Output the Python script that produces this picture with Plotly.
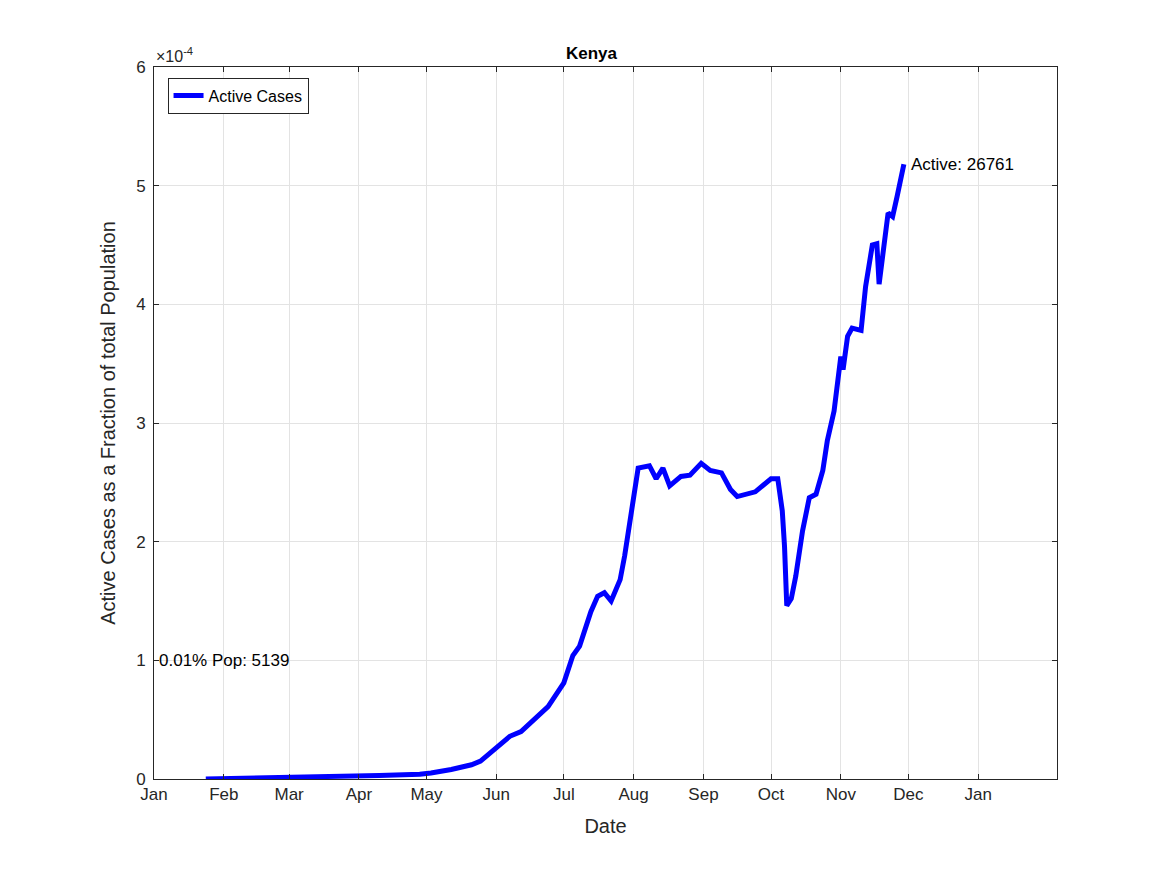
import plotly.graph_objects as go

# Active cases as fraction of population (units of 1e-4)
dates = ['2020-01-24', '2020-04-01', '2020-04-10', '2020-04-28', '2020-05-03', '2020-05-12',
         '2020-05-21', '2020-05-25', '2020-06-01', '2020-06-07', '2020-06-12', '2020-06-18',
         '2020-06-24', '2020-07-01', '2020-07-05', '2020-07-08', '2020-07-13', '2020-07-16',
         '2020-07-19', '2020-07-22', '2020-07-26', '2020-07-28', '2020-08-01', '2020-08-03',
         '2020-08-08', '2020-08-11', '2020-08-14', '2020-08-17', '2020-08-22', '2020-08-26',
         '2020-08-31', '2020-09-04', '2020-09-09', '2020-09-13', '2020-09-16', '2020-09-24',
         '2020-10-01', '2020-10-04', '2020-10-06', '2020-10-07', '2020-10-08', '2020-10-10',
         '2020-10-12', '2020-10-15', '2020-10-18', '2020-10-21', '2020-10-24', '2020-10-26',
         '2020-10-29', '2020-11-01', '2020-11-02', '2020-11-04', '2020-11-06', '2020-11-10',
         '2020-11-12', '2020-11-15', '2020-11-17', '2020-11-18', '2020-11-22', '2020-11-24',
         '2020-11-26', '2020-11-29']
active = [0, 0.02, 0.03, 0.04, 0.05, 0.08,
          0.12, 0.15, 0.26, 0.36, 0.40, 0.50,
          0.61, 0.81, 1.04, 1.12, 1.41, 1.54,
          1.57, 1.50, 1.68, 1.88, 2.34, 2.62,
          2.64, 2.53, 2.62, 2.47, 2.55, 2.56,
          2.66, 2.60, 2.58, 2.44, 2.38, 2.42,
          2.53, 2.53, 2.26, 1.96, 1.46, 1.52,
          1.71, 2.09, 2.37, 2.40, 2.60, 2.85,
          3.10, 3.56, 3.45, 3.73, 3.80, 3.78,
          4.15, 4.50, 4.51, 4.17, 4.77, 4.74,
          4.91, 5.18]
month_ticks = ['2020-01-01', '2020-02-01', '2020-03-01', '2020-04-01', '2020-05-01', '2020-06-01',
               '2020-07-01', '2020-08-01', '2020-09-01', '2020-10-01', '2020-11-01', '2020-12-01',
               '2021-01-01']
month_labels = ['Jan', 'Feb', 'Mar', 'Apr', 'May', 'Jun', 'Jul', 'Aug', 'Sep', 'Oct', 'Nov', 'Dec', 'Jan']

fig = go.Figure()
fig.add_trace(go.Scatter(x=dates, y=active, mode='lines', name='Active Cases',
                         line=dict(color='#0000ff', width=5)))

fig.add_annotation(x=dates[-1], y=active[-1], text='Active: 26761', showarrow=False,
                   xanchor='left', xshift=5, font=dict(size=17, color='black'))
fig.add_annotation(x='2020-01-01', y=1, text='0.01% Pop: 5139', showarrow=False,
                   xanchor='left', xshift=3, font=dict(size=17, color='black'))
fig.add_annotation(x=0, y=1, xref='paper', yref='paper', text='\u00d710<sup>-4</sup>',
                   showarrow=False, xanchor='left', yanchor='bottom', font=dict(size=16, color='#262626'))

axis_style = dict(showline=True, linecolor='#262626', mirror='ticks', ticks='inside',
                  tickcolor='#262626', showgrid=True, gridcolor='#e3e3e3', zeroline=False,
                  tickfont=dict(size=17, color='#262626'), title_font=dict(size=20, color='#262626'))

fig.update_layout(
    width=1167, height=875,
    paper_bgcolor='white', plot_bgcolor='white',
    font=dict(family='Helvetica, Arial, Liberation Sans, sans-serif'),
    margin=dict(l=146, r=118, t=59, b=104),
    title=dict(text='<b>Kenya</b>', x=0.5, xanchor='center', y=0.955, font=dict(size=17, color='black')),
    xaxis=dict(range=['2020-01-01', '2021-02-05'], tickvals=month_ticks, ticktext=month_labels,
               title_text='Date', **axis_style),
    yaxis=dict(range=[0, 6], dtick=1, title_text='Active Cases as a Fraction of total Population',
               ticklabelstandoff=4, **axis_style),
    legend=dict(x=0.015, y=0.985, xanchor='left', yanchor='top', bordercolor='#262626',
                borderwidth=1, bgcolor='white', font=dict(size=16, color='black')),
    showlegend=True,
)

fig.write_html("out.html")
